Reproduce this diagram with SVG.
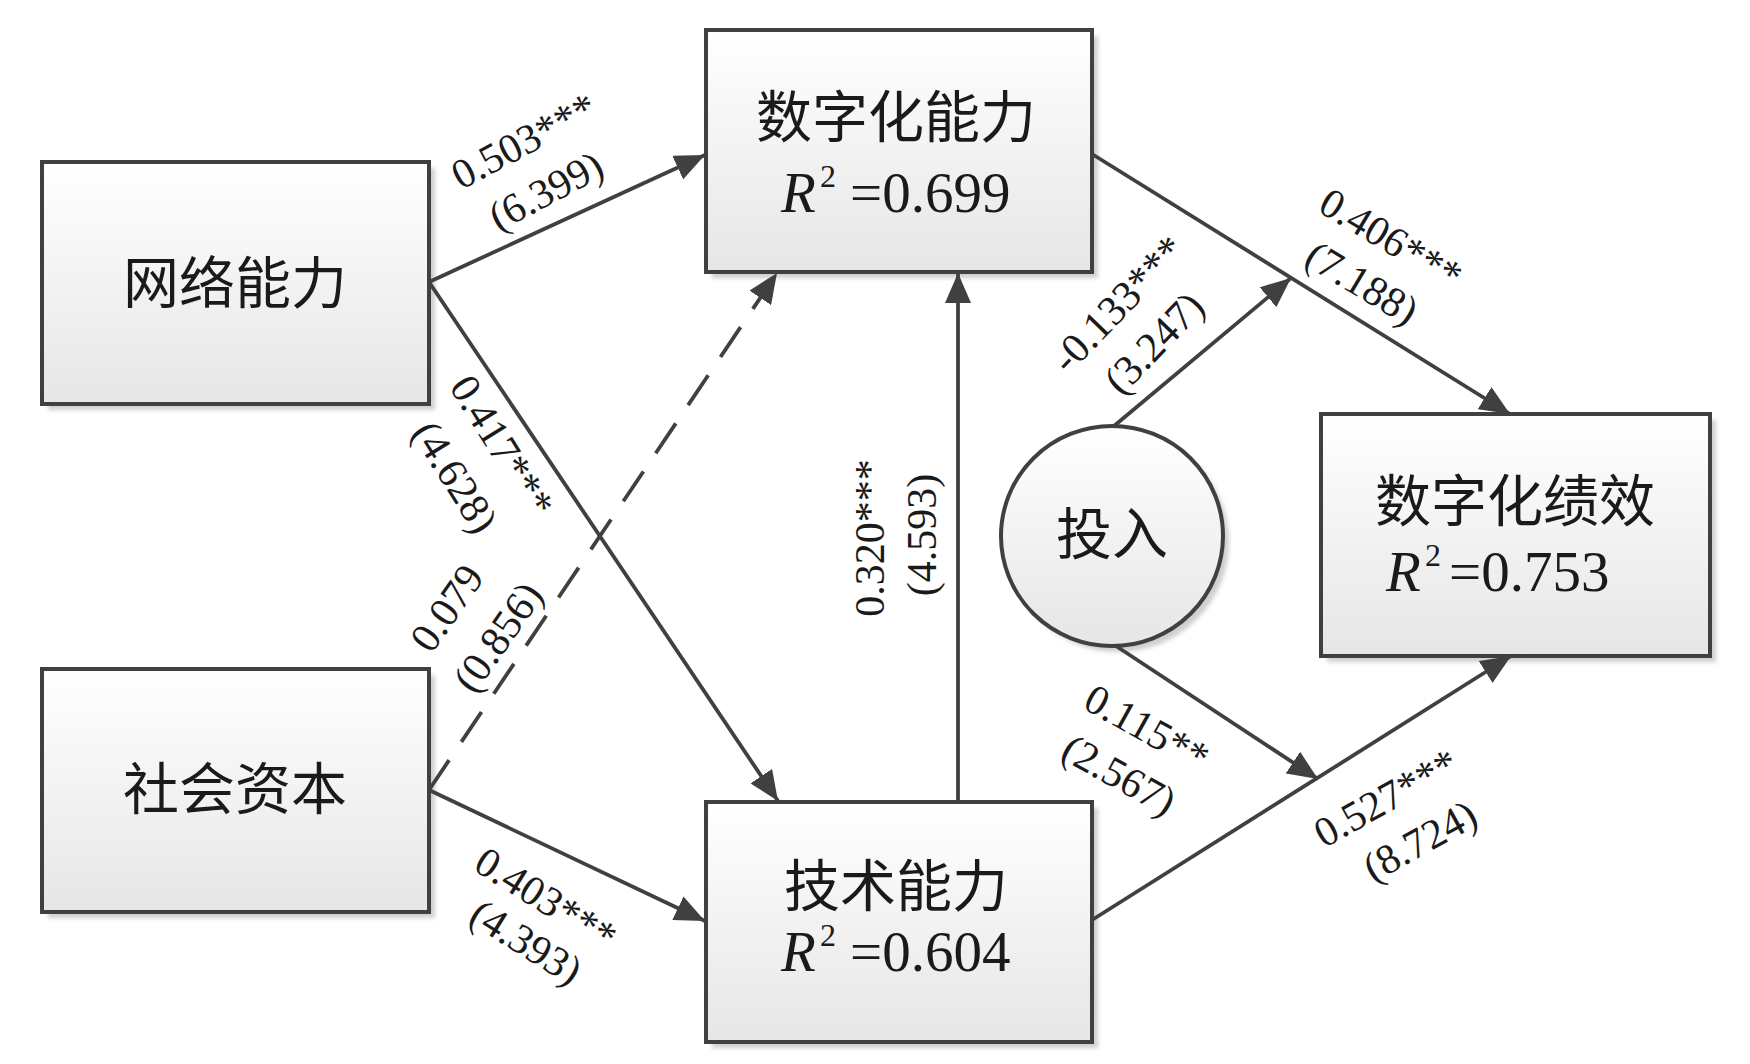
<svg xmlns="http://www.w3.org/2000/svg" width="1750" height="1064" viewBox="0 0 1750 1064">
  <defs>
    <linearGradient id="boxGrad" x1="0" y1="0" x2="0" y2="1">
      <stop offset="0" stop-color="#ffffff"/>
      <stop offset="1" stop-color="#e6e6e6"/>
    </linearGradient>
    <filter id="blur" x="-10%" y="-10%" width="120%" height="120%">
      <feGaussianBlur stdDeviation="2"/>
    </filter>
    <marker id="arrow" viewBox="0 0 30 26" refX="30" refY="13" markerWidth="30" markerHeight="26" markerUnits="userSpaceOnUse" orient="auto">
      <path d="M0,0 L30,13 L0,26 Z" fill="#404040"/>
    </marker>
  </defs>
  <style>
    .box { fill: url(#boxGrad); stroke: #404040; stroke-width: 4; }
    .shadow { fill: #cfcfcf; filter: url(#blur); }
    .cjk { font-family: "Noto Sans CJK SC", "Noto Sans", sans-serif; font-weight: 400; font-size: 56px; fill: #1a1a1a; text-anchor: middle; }
    .r2 { font-family: "Liberation Serif", "Times New Roman", serif; font-size: 57px; fill: #1a1a1a; }
    .lab { font-family: "Liberation Serif", "Times New Roman", serif; font-size: 42px; fill: #1a1a1a; text-anchor: middle; }
    .conn { stroke: #404040; stroke-width: 3.8; fill: none; marker-end: url(#arrow); }
    .dash { stroke-dasharray: 36 22; }
  </style>
  <rect width="1750" height="1064" fill="#ffffff"/>

  <g id="node-wangluo">
    <rect class="shadow" x="48" y="168" width="387" height="242"/>
    <rect class="box" x="42" y="162" width="387" height="242"/>
    <text class="cjk" x="235" y="303">网络能力</text>
  </g>
  <g id="node-shehui">
    <rect class="shadow" x="48" y="675" width="387" height="243"/>
    <rect class="box" x="42" y="669" width="387" height="243"/>
    <text class="cjk" x="235" y="809">社会资本</text>
  </g>
  <g id="node-shuzihua">
    <rect class="shadow" x="712" y="36" width="386" height="242"/>
    <rect class="box" x="706" y="30" width="386" height="242"/>
    <text class="cjk" x="896" y="137">数字化能力</text>
    <text class="r2" x="781" y="212"><tspan font-style="italic">R</tspan><tspan x="820" y="187" font-size="32">2</tspan><tspan x="850" y="212">=0.699</tspan></text>
  </g>
  <g id="node-jishu">
    <rect class="shadow" x="712" y="808" width="386" height="240"/>
    <rect class="box" x="706" y="802" width="386" height="240"/>
    <text class="cjk" x="896" y="906">技术能力</text>
    <text class="r2" x="781" y="971"><tspan font-style="italic">R</tspan><tspan x="820" y="946" font-size="32">2</tspan><tspan x="850" y="971">=0.604</tspan></text>
  </g>
  <g id="node-jixiao">
    <rect class="shadow" x="1327" y="420" width="389" height="242"/>
    <rect class="box" x="1321" y="414" width="389" height="242"/>
    <text class="cjk" x="1515" y="521">数字化绩效</text>
    <text class="r2" x="1386" y="591"><tspan font-style="italic">R</tspan><tspan x="1425" y="566" font-size="32">2</tspan><tspan x="1449" y="591">=0.753</tspan></text>
  </g>
  <g id="node-touru">
    <ellipse class="shadow" cx="1118" cy="542" rx="111" ry="110"/>
    <ellipse class="box" cx="1112" cy="536" rx="111" ry="110"/>
    <text class="cjk" x="1112" y="554">投入</text>
  </g>

  <g id="connectors">
    <line class="conn" x1="429" y1="282" x2="705" y2="155"/>
    <line class="conn" x1="429" y1="282" x2="778" y2="801"/>
    <line class="conn dash" x1="429" y1="790" x2="777" y2="273"/>
    <line class="conn" x1="429" y1="790" x2="705" y2="921"/>
    <line class="conn" x1="958" y1="802" x2="958" y2="273"/>
    <line class="conn" x1="1092" y1="154" x2="1510" y2="414"/>
    <line class="conn" x1="1114" y1="426" x2="1291" y2="278"/>
    <line class="conn" x1="1092" y1="920" x2="1511" y2="656"/>
    <line class="conn" x1="1116" y1="646" x2="1318" y2="779"/>
  </g>

  <g id="labels">
    <text class="lab" transform="translate(524,141) rotate(-28)" y="14">0.503***</text>
    <text class="lab" transform="translate(546,191) rotate(-28)" y="14">(6.399)</text>
    <text class="lab" transform="translate(502,446) rotate(58)" y="14">0.417***</text>
    <text class="lab" transform="translate(455,477) rotate(58)" y="14">(4.628)</text>
    <text class="lab" transform="translate(447,608) rotate(-55)" y="14">0.079</text>
    <text class="lab" transform="translate(498,637) rotate(-55)" y="14">(0.856)</text>
    <text class="lab" transform="translate(870,538) rotate(-90)" y="14">0.320***</text>
    <text class="lab" transform="translate(922,535) rotate(-90)" y="14">(4.593)</text>
    <text class="lab" transform="translate(1118,304) rotate(-46)" y="14">-0.133***</text>
    <text class="lab" transform="translate(1154,343) rotate(-46)" y="14">(3.247)</text>
    <text class="lab" transform="translate(1391,239) rotate(31)" y="14">0.406***</text>
    <text class="lab" transform="translate(1362,283) rotate(31)" y="14">(7.188)</text>
    <text class="lab" transform="translate(1147,728) rotate(29)" y="14">0.115**</text>
    <text class="lab" transform="translate(1119,775) rotate(29)" y="14">(2.567)</text>
    <text class="lab" transform="translate(1386,798) rotate(-29)" y="14">0.527***</text>
    <text class="lab" transform="translate(1420,841) rotate(-29)" y="14">(8.724)</text>
    <text class="lab" transform="translate(546,899) rotate(32)" y="14">0.403***</text>
    <text class="lab" transform="translate(526,942) rotate(32)" y="14">(4.393)</text>
  </g>
</svg>
